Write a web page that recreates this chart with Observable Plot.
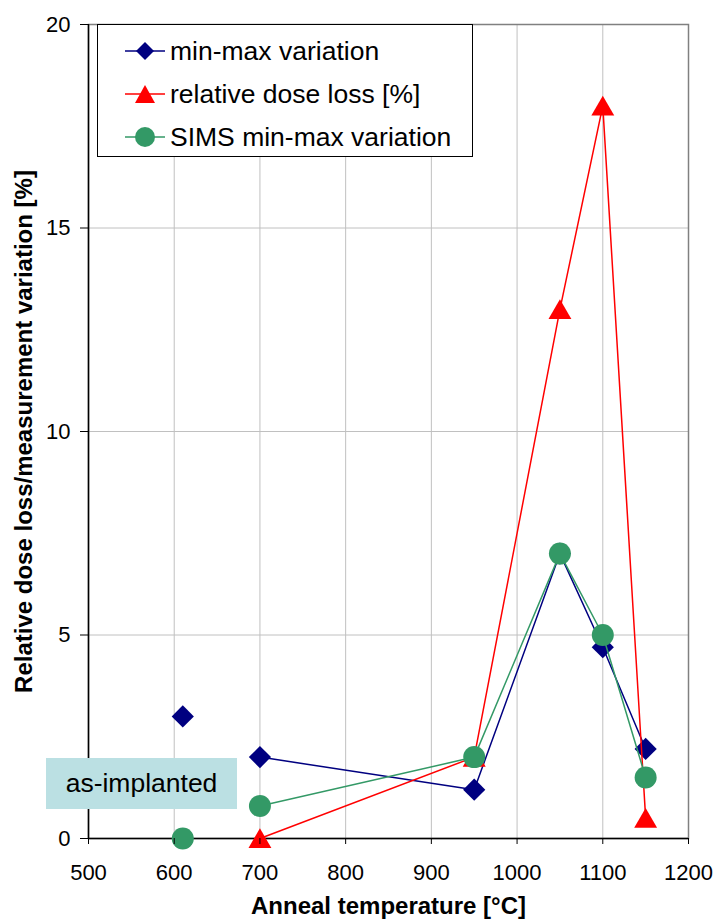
<!DOCTYPE html>
<html>
<head>
<meta charset="utf-8">
<script src="https://cdn.jsdelivr.net/npm/d3@7"></script>
<script src="https://cdn.jsdelivr.net/npm/@observablehq/plot@0.6"></script>
<style>
  html, body { margin: 0; padding: 0; background: #fff; }
  #wrap { position: relative; width: 718px; height: 920px; font-family: "Liberation Sans", Arial, sans-serif; }
  #legend { position: absolute; left: 97px; top: 24px; width: 376px; height: 133px; border: 1px solid #000; background: #fff; box-sizing: border-box; }
  .entry { position: absolute; left: 0; height: 30px; display: flex; align-items: center; font-size: 26.5px; color: #000; white-space: nowrap; }
  .entry svg { margin-left: 27px; margin-right: 5px; }
  #note { position: absolute; left: 46px; top: 758px; width: 191px; height: 51px; background: #bbe0e3; display: flex; align-items: center; justify-content: center; font-size: 26.5px; color: #000; }
</style>
</head>
<body>
<div id="wrap"></div>
<script>
// ---- data ----
const temps = [700, 950, 1050, 1100, 1150];
const minMax = [2.0, 1.2, 7.0, 4.7, 2.2];
const doseLoss = [0, 2.0, 13, 18, 0.5];
const simsMinMax = [0.8, 2.0, 7.0, 5.0, 1.5];
const asImplantedTemp = [610];
const asImplantedMinMax = [3.0];
const asImplantedSims = [0];
const xTicks = [500, 600, 700, 800, 900, 1000, 1100, 1200];
const yTicks = [0, 5, 10, 15, 20];
const seriesNames = ["min-max variation", "relative dose loss [%]", "SIMS min-max variation"];
const colors = ["#000080", "#ff0000", "#339966"];

const rows = temps.map((t, i) => ({t, minMax: minMax[i], dose: doseLoss[i], sims: simsMinMax[i]}));
const implRows = asImplantedTemp.map((t, i) => ({t, minMax: asImplantedMinMax[i], sims: asImplantedSims[i]}));

const chart = Plot.plot({
  width: 718,
  height: 920,
  marginLeft: 88,
  marginRight: 30,
  marginTop: 24,
  marginBottom: 82,
  style: {fontFamily: "'Liberation Sans', Arial, sans-serif", fontSize: "22px", background: "#fff", color: "#000"},
  x: {domain: [500, 1200]},
  y: {domain: [0, 20]},
  marks: [
    Plot.gridX(xTicks, {stroke: "#c0c0c0", strokeOpacity: 1, strokeWidth: 1}),
    Plot.gridY(yTicks, {stroke: "#c0c0c0", strokeOpacity: 1, strokeWidth: 1}),
    Plot.frame({stroke: "#808080", strokeWidth: 1.5}),
    Plot.ruleX([500], {stroke: "#000", strokeWidth: 1.5}),
    Plot.ruleY([0], {stroke: "#000", strokeWidth: 1.5}),
    // min-max variation
    Plot.line(rows, {x: "t", y: "minMax", stroke: colors[0], strokeWidth: 1.5}),
    Plot.dot(rows, {x: "t", y: "minMax", symbol: "diamond2", r: 10, fill: colors[0]}),
    Plot.dot(implRows, {x: "t", y: "minMax", symbol: "diamond2", r: 10, fill: colors[0]}),
    // relative dose loss
    Plot.line(rows, {x: "t", y: "dose", stroke: colors[1], strokeWidth: 1.5}),
    Plot.dot(rows, {x: "t", y: "dose", symbol: "triangle", r: 8.5, fill: colors[1], dy: 3}),
    // SIMS
    Plot.line(rows, {x: "t", y: "sims", stroke: colors[2], strokeWidth: 1.5}),
    Plot.dot(rows, {x: "t", y: "sims", symbol: "circle", r: 11, fill: colors[2]}),
    Plot.dot(implRows, {x: "t", y: "sims", symbol: "circle", r: 11, fill: colors[2]}),
    Plot.axisX(xTicks, {tickSize: 6, tickPadding: 20, tickFormat: d => String(d), label: null, stroke: "#000"}),
    Plot.axisY(yTicks, {tickSize: 8, tickPadding: 10, tickFormat: d => String(d), label: null, stroke: "#000"}),
    Plot.text(["Anneal temperature [°C]"], {frameAnchor: "bottom", dy: 75, fontWeight: "bold", fontSize: 24}),
    Plot.text(["Relative dose loss/measurement variation [%]"], {frameAnchor: "left", textAnchor: "middle", dx: -64, rotate: -90, fontWeight: "bold", fontSize: 24})
  ]
});

const wrap = document.getElementById("wrap");
wrap.appendChild(chart);

// legend
const legend = document.createElement("div");
legend.id = "legend";
const symbols = [
  `<path d="M20,0 L29,9 L20,18 L11,9 Z" fill="${colors[0]}"/>`,
  `<path d="M20,0 L30,18 L10,18 Z" fill="${colors[1]}"/>`,
  `<circle cx="20" cy="9" r="10" fill="${colors[2]}"/>`
];
const tops = [11, 54, 97];
seriesNames.forEach((name, i) => {
  const e = document.createElement("div");
  e.className = "entry";
  e.style.top = tops[i] + "px";
  e.innerHTML = `<svg width="40" height="20" viewBox="0 -1 40 20" style="overflow:visible"><line x1="0" x2="40" y1="9" y2="9" stroke="${colors[i]}" stroke-width="1.5"/>${symbols[i]}</svg><span>${name}</span>`;
  legend.appendChild(e);
});
wrap.appendChild(legend);

const note = document.createElement("div");
note.id = "note";
note.textContent = "as-implanted";
wrap.appendChild(note);
</script>
</body>
</html>
